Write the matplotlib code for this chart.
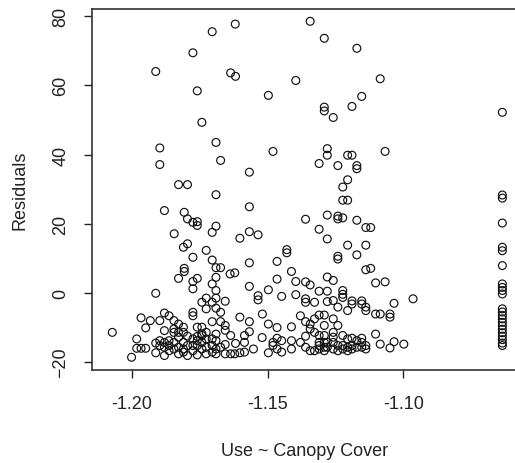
import matplotlib
matplotlib.use("Agg")
import matplotlib.pyplot as plt

plt.rcParams["font.family"] = ["Liberation Sans", "DejaVu Sans"]

# residuals vs fitted (Use ~ Canopy Cover), main cloud
cover_x = [
    -1.2072, -1.1912, -1.1897, -1.1897, -1.1912, -1.1880, -1.1844, -1.1828, -1.1795, -1.1775,
    -1.1759, -1.1742, -1.1704, -1.1636, -1.1618, -1.1619, -1.1690, -1.1673, -1.1690, -1.1567,
    -1.1567, -1.1497, -1.1480, -1.1396, -1.1343, -1.1291, -1.1171, -1.1085, -1.1153, -1.1189,
    -1.1291, -1.1291, -1.1258, -1.1067, -1.1280, -1.1280, -1.1310, -1.1241, -1.1205, -1.1189,
    -1.1171, -1.1171, -1.1205, -1.1223, -1.1223, -1.1205, -1.1360, -1.1310, -1.1280, -1.1241,
    -1.1241, -1.1223, -1.1171, -1.1138, -1.1120, -1.1280, -1.1205, -1.1138, -1.1171, -1.1241,
    -1.1241, -1.1138, -1.1120, -1.1102, -1.1067, -1.0964, -1.1034, -1.1102, -1.1085, -1.1049,
    -1.1049, -1.1102, -1.1085, -1.1034, -1.1049, -1.0998,
    -1.1807, -1.1795, -1.1775, -1.1759, -1.1759, -1.1704, -1.1690, -1.1602, -1.1567, -1.1535,
    -1.1810, -1.1795, -1.1775, -1.1726, -1.1638, -1.1621, -1.1567, -1.1465, -1.1429, -1.1429,
    -1.1412, -1.1396, -1.1465, -1.1497, -1.1567, -1.1535, -1.1535, -1.1448, -1.1396, -1.1360,
    -1.1343, -1.1310, -1.1280, -1.1280, -1.1258, -1.1223, -1.1223, -1.1223, -1.1360, -1.1360,
    -1.1327, -1.1280, -1.1258, -1.1241, -1.1189, -1.1189, -1.1153, -1.1153, -1.1138, -1.1138,
    -1.1205,
    -1.1807, -1.1807, -1.1828, -1.1759, -1.1775, -1.1775, -1.1704, -1.1690, -1.1673, -1.1690,
    -1.1704, -1.1690, -1.1690, -1.1726, -1.1742, -1.1726, -1.1704, -1.1690, -1.1673, -1.1656,
    -1.1775, -1.1775, -1.1602, -1.1519, -1.1567, -1.1704, -1.1673, -1.1656, -1.1497, -1.1465,
    -1.1412, -1.1379, -1.1360, -1.1343, -1.1327, -1.1310, -1.1291, -1.1258, -1.1291, -1.1241,
    -1.1343, -1.1327, -1.1360, -1.1310, -1.1291, -1.1258, -1.1258, -1.1223, -1.1189, -1.1153,
    -1.1153, -1.1205, -1.1171, -1.1636, -1.1585, -1.1567, -1.1585, -1.1520, -1.1480, -1.1448,
    -1.1412, -1.1379, -1.1465,
    -1.1966, -1.1932, -1.1949, -1.1982, -1.1982, -1.1966, -1.1949, -1.2001, -1.1912, -1.1912,
    -1.1897, -1.1880, -1.1863, -1.1880, -1.1897, -1.1897, -1.1880, -1.1863, -1.1880, -1.1863,
    -1.1863, -1.1880, -1.1845, -1.1845, -1.1845, -1.1828, -1.1828, -1.1828, -1.1845, -1.1845,
    -1.1828, -1.1828, -1.1810, -1.1810, -1.1810, -1.1810, -1.1810, -1.1795, -1.1795, -1.1795,
    -1.1775, -1.1775, -1.1775, -1.1759, -1.1759, -1.1759, -1.1759, -1.1742, -1.1742, -1.1742,
    -1.1742, -1.1726, -1.1726, -1.1726, -1.1726, -1.1704, -1.1704, -1.1704, -1.1690, -1.1690,
    -1.1690, -1.1673, -1.1656, -1.1636, -1.1621, -1.1602, -1.1585, -1.1552, -1.1497, -1.1480,
    -1.1465, -1.1448, -1.1412, -1.1360, -1.1343, -1.1327, -1.1310, -1.1310, -1.1291, -1.1291,
    -1.1280, -1.1280, -1.1258, -1.1258, -1.1241, -1.1241, -1.1223, -1.1223, -1.1205, -1.1205,
    -1.1189, -1.1189, -1.1171, -1.1153, -1.1138, -1.1138, -1.1291, -1.1310,
    -1.1742, -1.1759, -1.1656, -1.1618, -1.1690, -1.1656,
]
cover_y = [
    -11.4, 64.0, 41.9, 37.1, -0.1, 23.8, 17.1, 31.3, 31.3, 69.4,
    58.4, 49.3, 75.5, 63.6, 62.6, 77.7, 43.5, 38.3, 28.4, 34.9,
    24.9, 57.1, 40.9, 61.4, 78.5, 73.6, 70.7, 61.9, 56.8, 53.9,
    53.7, 52.6, 50.7, 40.9, 41.7, 39.8, 37.4, 36.8, 39.8, 39.8,
    36.8, 35.9, 32.7, 30.6, 26.8, 26.8, 21.3, 18.4, 22.5, 22.2,
    21.4, 21.7, 21.0, 18.9, 18.9, 15.6, 13.8, 13.8, 11.0, 10.6,
    9.8, 6.7, 7.1, 2.9, 3.2, -1.7, -3.0, -6.1, -6.1, -6.1,
    -7.0, -11.9, -14.8, -14.1, -15.9, -14.8,
    23.3, 21.4, 20.4, 20.6, 19.5, 17.5, 19.3, 15.8, 17.7, 16.8,
    13.2, 14.2, 10.3, 12.3, 5.5, 5.8, 8.7, 9.1, 12.5, 11.6,
    6.2, 3.3, 4.0, 0.9, 1.9, -0.8, -2.0, -1.0, -0.5, 3.2,
    2.3, 0.5, 0.5, 4.6, 3.6, 0.7, -0.4, -1.3, -1.7, -2.7,
    -2.7, -2.5, -2.2, -4.1, -2.3, -3.2, -2.3, -3.2, -4.1, -5.1,
    -5.1,
    7.1, 6.2, 4.2, 4.2, 3.3, 1.2, 9.5, 7.3, 7.3, 4.5,
    2.6, 0.7, -1.5, -1.5, -2.7, -4.6, -2.7, -4.4, -5.6, -2.4,
    -5.6, -6.6, -7.0, -6.1, -8.3, -8.3, -8.3, -9.4, -9.0, -10.0,
    -9.8, -6.6, -8.3, -9.0, -7.5, -6.4, -6.4, -7.5, -9.4, -9.4,
    -10.4, -11.4, -12.5, -12.3, -12.3, -11.4, -12.8, -12.3, -13.1, -13.1,
    -14.3, -13.3, -13.8, -12.3, -12.3, -11.2, -14.3, -12.9, -14.3, -13.8,
    -13.8, -14.3, -13.1,
    -7.2, -8.0, -10.1, -13.3, -16.0, -16.0, -16.0, -18.6, -14.5, -17.3,
    -8.0, -5.8, -6.6, -10.9, -13.8, -15.2, -14.3, -13.8, -15.7, -15.2,
    -16.7, -18.1, -8.0, -10.4, -11.4, -9.0, -11.4, -12.8, -14.3, -16.2,
    -15.7, -17.6, -9.9, -11.4, -14.3, -16.2, -17.1, -12.5, -15.2, -18.1,
    -13.3, -15.2, -16.7, -9.9, -13.8, -15.2, -17.9, -9.9, -12.3, -14.3,
    -16.2, -11.4, -13.3, -15.7, -17.6, -13.3, -15.2, -17.1, -13.8, -16.2,
    -17.6, -15.7, -17.6, -17.6, -17.6, -17.3, -17.1, -16.2, -17.3, -15.2,
    -16.2, -17.1, -16.2, -15.7, -16.7, -16.7, -15.2, -16.2, -15.7, -16.7,
    -14.3, -15.7, -14.3, -16.2, -15.2, -16.7, -15.2, -16.2, -15.7, -16.7,
    -15.2, -16.2, -15.7, -15.7, -16.2, -15.2, -14.3, -14.3,
    -11.8, -12.6, -10.8, -14.6, -11.9, -14.9,
]

# the separate column at the right edge
col_x = -1.0635
col_y = [
    52.2, 28.3, 27.4, 20.2, 13.2, 12.2, 7.9, 2.6, 1.6, 0.7, -0.3,
    -4.6, -5.5, -6.5, -7.5, -8.5, -9.5, -10.5, -11.5, -12.5, -13.5, -14.5, -15.2,
]

x_ticks = [-1.20, -1.15, -1.10]
x_tick_labels = ["-1.20", "-1.15", "-1.10"]
y_ticks = [-20, 0, 20, 40, 60, 80]

fig = plt.figure(figsize=(5.15, 4.64), dpi=100)
ax = fig.add_axes([0.178, 0.201, 0.828, 0.777])

ax.scatter(cover_x, cover_y, s=32, facecolors="none", edgecolors="#111111", linewidths=0.85)
ax.scatter([col_x] * len(col_y), col_y, s=32, facecolors="none", edgecolors="#111111", linewidths=0.85)

ax.set_xlim(-1.2148, -1.0577)
ax.set_ylim(-22.2, 82.0)
ax.set_xticks(x_ticks)
ax.set_xticklabels(x_tick_labels)
ax.set_yticks(y_ticks)
for lab in ax.get_yticklabels():
    lab.set_rotation(90)
    lab.set_va("center")

ax.tick_params(axis="x", length=6, width=1, pad=12, labelsize=13, colors="#222222")
ax.tick_params(axis="y", length=6, width=1, pad=10, labelsize=13, colors="#222222")
for sp in ax.spines.values():
    sp.set_linewidth(1.2)
    sp.set_color("#333333")

ax.set_xlabel("Use ~ Canopy Cover", fontsize=13, labelpad=22, color="#222222")
ax.set_ylabel("Residuals", fontsize=13, labelpad=17, color="#222222")

fig.savefig("out.png", dpi=100)
